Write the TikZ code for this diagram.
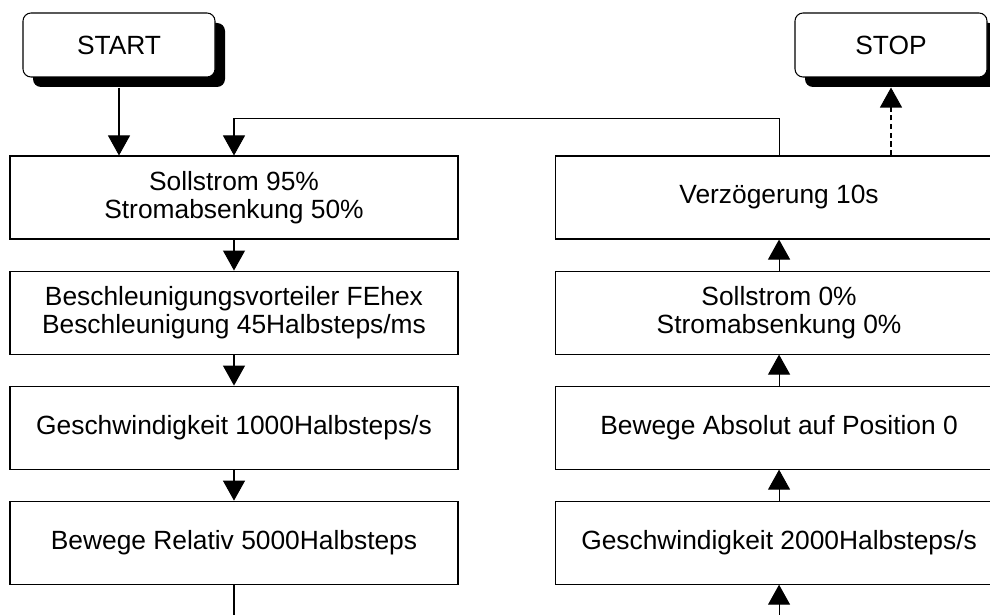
\documentclass[tikz,border=0pt]{standalone}
\usepackage{fontspec}
\setmainfont{Liberation Sans}
\usetikzlibrary{arrows.meta,positioning,shadows}

\begin{document}
\begin{tikzpicture}[
      > = {Triangle[width=0.44cm,length=0.4cm]}, % arrow head style
      node distance = 0.62cm and 1.92cm, % distance between boxes
      line width = 0.6pt, % line style
      font = \fontsize{15}{16}\selectfont
      ]

      \tikzset{stepbox/.style={
      draw = black,
      fill = white,
      align = center,
      minimum width = 8.96cm,
      minimum height = 1.66cm
      }}
      \tikzset{term/.style={
      draw = black,
      fill = white,
      rounded corners = 0.16cm,
      minimum width = 3.84cm,
      minimum height = 1.28cm,
      drop shadow = {shadow xshift=0.2cm, shadow yshift=-0.2cm, fill=black, opacity=1}
      }}

      \useasboundingbox (0,0) rectangle (19.8,-12.3);

      \node[term] (start) at (2.38,-0.9) {START};
      \node[term] (stop) at (17.82,-0.9) {STOP};

      \node[stepbox] (b1) at (4.68,-3.95) {Sollstrom 95\%\\Stromabsenkung 50\%};
      \node[stepbox] (b2) [below=of b1] {Beschleunigungsvorteiler FEhex\\Beschleunigung 45Halbsteps/ms};
      \node[stepbox] (b3) [below=of b2] {Geschwindigkeit 1000Halbsteps/s};
      \node[stepbox] (b4) [below=of b3] {Bewege Relativ 5000Halbsteps};

      \node[stepbox] (r4) [right=of b4] {Geschwindigkeit 2000Halbsteps/s};
      \node[stepbox] (r3) [above=of r4] {Bewege Absolut auf Position 0};
      \node[stepbox] (r2) [above=of r3] {Sollstrom 0\%\\Stromabsenkung 0\%};
      \node[stepbox] (r1) [above=of r2] {Verzögerung 10s};

      % off-page ends and shadow feet
      \coordinate (bot) at (0,-12.3);
      \coordinate (outl) at (b4.south |- bot);
      \coordinate (inr) at (r4.south |- bot);
      \coordinate (startfoot) at ([yshift=-0.2cm]start.south);
      \coordinate (stopfoot) at ([yshift=-0.2cm]stop.south);

      \draw[->] (startfoot) -- (startfoot |- b1.north);
      \draw[->] (r1.north) -- ++(0,0.74) -| (b1.north);
      \draw[->] (b1) -- (b2);
      \draw[->] (b2) -- (b3);
      \draw[->] (b3) -- (b4);
      \draw (b4) -- (outl);

      \draw[->] (inr) -- (r4);
      \draw[->] (r4) -- (r3);
      \draw[->] (r3) -- (r2);
      \draw[->] (r2) -- (r1);
      \draw[->,densely dashed] (r1.north -| stopfoot) -- (stopfoot);

    \end{tikzpicture}
\end{document}
